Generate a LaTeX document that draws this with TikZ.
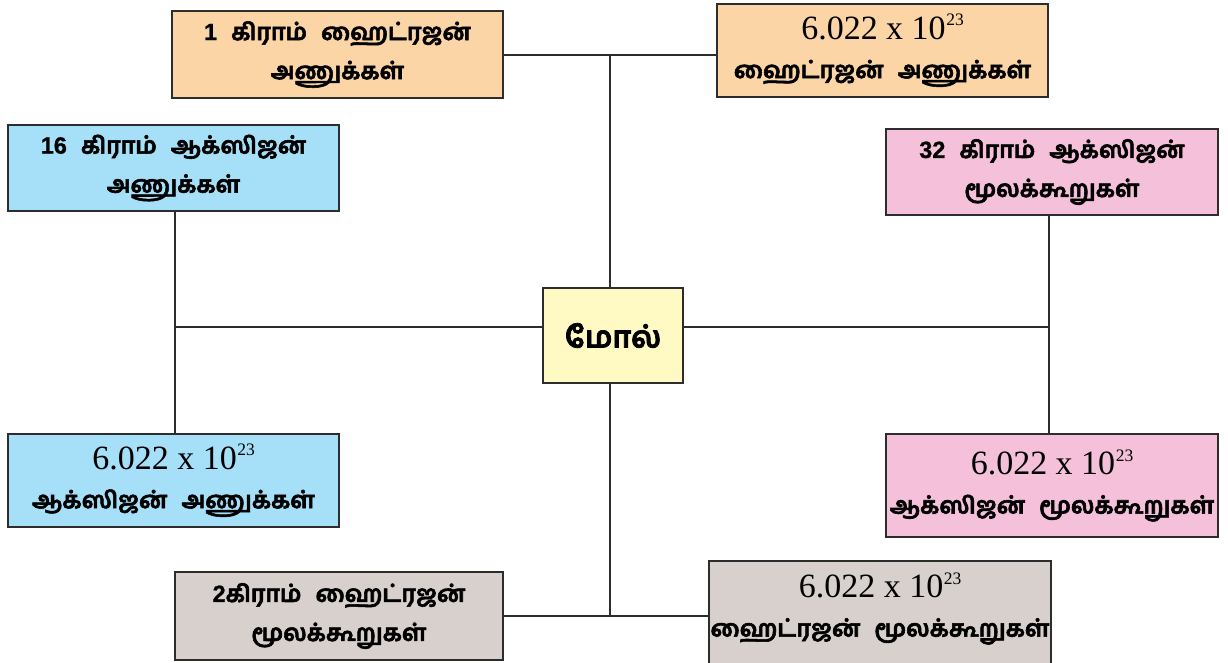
\documentclass[tikz,border=0pt]{standalone}
\usepackage{fontspec}
\usetikzlibrary{backgrounds}
\setmainfont{Liberation Serif}
\newfontfamily\tam[Script=Tamil,FakeBold=2.4]{Hind Madurai}
\newfontfamily\lsans[FakeBold=1]{Liberation Sans}
\definecolor{peach}{RGB}{252,213,167}
\definecolor{skyb}{RGB}{166,223,248}
\definecolor{pinkc}{RGB}{245,193,218}
\definecolor{yell}{RGB}{255,249,196}
\definecolor{greyc}{RGB}{215,208,204}
\definecolor{edge}{RGB}{45,45,45}
\begin{document}
\begin{tikzpicture}[x=1pt,y=-1pt,
  box/.style={draw=edge,line width=1.6pt,inner sep=0pt,align=center,
    minimum width=331pt,minimum height=87pt,font=\tam\bfseries\fontsize{23.5}{39}\selectfont},
  link/.style={draw=edge,line width=1.5pt}]
\useasboundingbox (0,0) rectangle (1228,663);
\newcommand{\avo}{{\rmfamily\mdseries\fontsize{34}{39}\selectfont 6.022 x 10\kern0.5pt\raisebox{13.5pt}{\fontsize{17.5}{17.5}\selectfont 23}}}
\newcommand{\wsp}{\hspace{0.6em}}
\node[box,fill=peach] (A) at (337.5,54.5) {{\lsans\bfseries 1}\wsp கிராம்\wsp ஹைட்ரஜன்\\ அணுக்கள்};
\node[box,fill=peach,minimum height=93pt] (B) at (882.5,50.5) {\avo\\ ஹைட்ரஜன்\wsp அணுக்கள்};
\node[box,fill=skyb,minimum height=86pt] (C) at (173.5,168) {{\lsans\bfseries 16}\wsp கிராம்\wsp ஆக்ஸிஜன்\\ அணுக்கள்};
\node[box,fill=pinkc,minimum width=332pt,minimum height=86pt] (D) at (1052,172) {{\lsans\bfseries 32}\wsp கிராம்\wsp ஆக்ஸிஜன்\\ மூலக்கூறுகள்};
\node[box,fill=yell,minimum width=140pt,minimum height=95pt,font=\tam\bfseries\fontsize{30}{36}\selectfont] (M) at (613,335.5) {மோல்};
\node[box,fill=skyb,minimum height=93pt] (E) at (173.5,480.5) {\avo\\ ஆக்ஸிஜன்\wsp அணுக்கள்};
\node[box,fill=pinkc,minimum width=332pt,minimum height=103pt] (F) at (1052,485.5) {\avo\\ ஆக்ஸிஜன்\wsp மூலக்கூறுகள்};
\node[box,fill=greyc,minimum width=328pt,minimum height=88pt] (G) at (339,616) {{\lsans\bfseries 2}கிராம்\wsp ஹைட்ரஜன்\\ மூலக்கூறுகள்};
\node[box,draw=none,minimum width=340pt,minimum height=93pt] (H) at (880,608.5) {\avo\\ ஹைட்ரஜன்\wsp மூலக்கூறுகள்};
\begin{scope}[on background layer]
\draw[draw=edge,line width=1.6pt,fill=greyc] (H.north west) rectangle ([yshift=-30pt]H.south east);
\end{scope}
\coordinate (jT) at (610,55);
\coordinate (jB) at (610,616);
\coordinate (jL) at (175,327);
\coordinate (jR) at (1049,327);
\draw[link] (A.east |- jT) -- (B.west |- jT);
\draw[link] (jT) -- (jT |- M.north);
\draw[link] (jB |- M.south) -- (jB);
\draw[link] (G.east |- jB) -- (H.west |- jB);
\draw[link] (jL |- C.south) -- (jL |- E.north);
\draw[link] (jL) -- (M.west |- jL);
\draw[link] (jR |- D.south) -- (jR |- F.north);
\draw[link] (M.east |- jR) -- (jR);
\end{tikzpicture}
\end{document}
